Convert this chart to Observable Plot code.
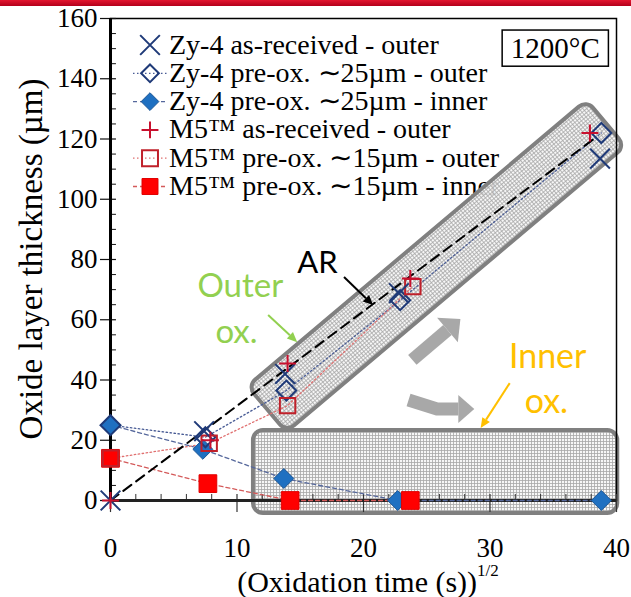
<!DOCTYPE html>
<html><head><meta charset="utf-8">
<script src="https://cdn.jsdelivr.net/npm/d3@7"></script>
<script src="https://cdn.jsdelivr.net/npm/@observablehq/plot@0.6"></script>
<style>
body{margin:0;background:#fff;}
#wrap{position:relative;width:631px;height:597px;overflow:hidden;background:#fff;}
#bar{position:absolute;left:0;top:0;width:631px;height:6px;background:linear-gradient(#e3162f,#b3001b);z-index:5;}
</style></head><body><div id="wrap"><div id="bar"></div></div>
<script>
// ---------------- data ----------------
const xTicks = [0, 10, 20, 30, 40];
const yTicks = [0, 20, 40, 60, 80, 100, 120, 140, 160];
const xMinor = [2,4,6,8,12,14,16,18,22,24,26,28,32,34,36,38];
const yMinor = [5,10,15,25,30,35,45,50,55,65,70,75,85,90,95,105,110,115,125,130,135,145,150,155];

const seriesNames = [
  "Zy-4 as-received - outer",
  "Zy-4 pre-ox. \u223C25\u00B5m - outer",
  "Zy-4 pre-ox. \u223C25\u00B5m - inner",
  "M5\u2122 as-received - outer",
  "M5\u2122 pre-ox. \u223C15\u00B5m - outer",
  "M5\u2122 pre-ox. \u223C15\u00B5m - inner"
];

const zyArT       = [0, 7.4, 13.8, 22.8, 38.7];
const zyArOuter   = [0, 23, 42, 68.8, 113.5];
const zyPreT      = [0, 7.5, 13.9, 22.9, 38.8];
const zyPreOuter  = [25, 21, 36.5, 66.5, 122];
const zyInnerT    = [0, 7.3, 13.7, 22.7, 38.8];
const zyPreInner  = [25, 17, 7.3, 0, 0];
const m5ArT       = [0, 7.9, 14.0, 23.7, 37.9];
const m5ArOuter   = [0, 20, 45.5, 73.7, 122];
const m5PreT      = [0, 7.8, 14.0, 23.9];
const m5PreOuter  = [14, 19, 31.5, 71];
const m5InnerT    = [0, 7.7, 14.2, 23.7];
const m5PreInner  = [14, 5.6, 0, 0];
const arFitT      = [0, 38.2];
const arFitY      = [0, 120];

const tempLabel = "1200\u00B0C";
const xLabel = "(Oxidation time (s))";
const xLabelSup = "1/2";
const yLabel = "Oxide layer thickness (\u00B5m)";

// ---------------- styles ----------------
const series = [
  {t: zyArT,    v: zyArOuter,  symbol: "times",    r: 9,   stroke: "#1f3a78", fill: "none",    sw: 2, line: null},
  {t: zyPreT,   v: zyPreOuter, symbol: "diamond2", r: 9,   stroke: "#1f3a78", fill: "none",    sw: 2, line: {stroke: "#4a5d96", dash: "1.5,2.5"}},
  {t: zyInnerT, v: zyPreInner, symbol: "diamond2", r: 9,   stroke: "#1c5696", fill: "#1f70c1", sw: 1, line: {stroke: "#56689c", dash: "4,3"}},
  {t: m5ArT,    v: m5ArOuter,  symbol: "plus",     r: 5.5, stroke: "#c8102e", fill: "none",    sw: 2, line: null},
  {t: m5PreT,   v: m5PreOuter, symbol: "square",   r: 8.7, stroke: "#c0202a", fill: "none",    sw: 2, line: {stroke: "#e07070", dash: "1.5,2.5"}},
  {t: m5InnerT, v: m5PreInner, symbol: "square",   r: 10,  stroke: "#e00000", fill: "#ff0000", sw: 1, line: {stroke: "#d45a5a", dash: "4,3"}}
];
series.forEach(s => s.rows = s.t.map((t, i) => ({t, v: s.v[i]})));
const arRows = arFitT.map((t, i) => ({t, v: arFitY[i]}));

const lineMarks = series.filter(s => s.line).map(s =>
  Plot.line(s.rows, {x: "t", y: "v", stroke: s.line.stroke, strokeWidth: 1.3, strokeDasharray: s.line.dash}));
const dotOrder = [2, 5, 1, 4, 0, 3];
const dotMarks = dotOrder.map(k => {
  const s = series[k];
  return Plot.dot(s.rows, {x: "t", y: "v", symbol: s.symbol, r: s.r, fill: s.fill, stroke: s.stroke, strokeWidth: s.sw});
});

const plot = Plot.plot({
  width: 631, height: 597,
  marginLeft: 110, marginRight: 15, marginTop: 18, marginBottom: 97,
  x: {domain: [0, 40], ticks: xTicks, tickSize: 0, tickPadding: 37, label: null},
  y: {domain: [0, 160], ticks: yTicks, tickSize: 0, tickPadding: 13, label: null},
  style: {fontFamily: "Liberation Serif", fontSize: "27px", background: "transparent", color: "black", overflow: "visible"},
  marks: [
    Plot.frame({stroke: "black", strokeWidth: 1.5}),
    Plot.ruleX(xMinor, {x: d => d, y1: 0, y2: 2, stroke: "#333", strokeWidth: 1}),
    Plot.ruleX(xTicks, {x: d => d, y1: -4, y2: 2, stroke: "#333", strokeWidth: 1.2}),
    Plot.ruleY(yMinor, {y: d => d, x1: 0, x2: 0.47, stroke: "#111", strokeWidth: 1}),
    Plot.ruleY(yTicks, {y: d => d, x1: -0.79, x2: 0.47, stroke: "#111", strokeWidth: 1.2}),
    Plot.ruleX([0], {y1: 0, y2: 160, stroke: "black", strokeWidth: 3}),
    Plot.ruleY([0], {x1: 0, x2: 40, stroke: "#222", strokeWidth: 3}),
    ...lineMarks,
    Plot.line(arRows, {x: "t", y: "v", stroke: "black", strokeWidth: 2, strokeDasharray: "10,6"}),
    ...dotMarks
  ]
});
document.getElementById("wrap").appendChild(plot);

// ---------------- overlays ----------------
const ns = "http://www.w3.org/2000/svg";
const sx = plot.scale("x"), sy = plot.scale("y");
const X = v => sx.apply(v), Y = v => sy.apply(v);

const under = document.createElementNS(ns, "g");
plot.insertBefore(under, plot.querySelector("g"));
const g = d3.select(under);

// legend
const leg = g.append("g");
series.forEach((s, i) => {
  const cy = 45 + i * 28.3;
  if (s.line) leg.append("line").attr("x1", 133).attr("x2", 168).attr("y1", cy).attr("y2", cy)
    .attr("stroke", s.line.stroke).attr("stroke-width", 1.3).attr("stroke-dasharray", s.line.dash);
  const lr = (s.symbol === "diamond2") ? 8 : (s.symbol === "square" ? 9 : s.r);
  const type = {times: d3.symbolTimes, diamond2: d3.symbolDiamond2, plus: d3.symbolPlus, square: d3.symbolSquare}[s.symbol];
  leg.append("path").attr("transform", `translate(150,${cy})`)
    .attr("d", d3.symbol().type(type).size(Math.PI * lr * lr)())
    .attr("fill", s.fill).attr("stroke", s.stroke).attr("stroke-width", s.sw);
  leg.append("text").attr("x", 169).attr("y", cy + 8.5).attr("text-anchor", "start")
    .attr("font-family", "Liberation Serif").attr("font-size", 28).attr("fill", "black").text(seriesNames[i]);
});

// mesh pattern + boxes
const defs = g.append("defs");
const pat = defs.append("pattern").attr("id", "mesh").attr("width", 3).attr("height", 3).attr("patternUnits", "userSpaceOnUse");
pat.append("rect").attr("width", 3).attr("height", 3).attr("fill", "rgba(246,246,246,0.88)");
pat.append("path").attr("d", "M0,0.5H3M0.5,0V3").attr("stroke", "#a8a8a8").attr("stroke-width", 0.8);

const innerBox = {x1: 11.3, x2: 40.1, y1: -4.3, y2: 23.2};
g.append("rect").attr("x", X(innerBox.x1)).attr("y", Y(innerBox.y2))
  .attr("width", X(innerBox.x2) - X(innerBox.x1)).attr("height", Y(innerBox.y1) - Y(innerBox.y2))
  .attr("rx", 10).attr("fill", "url(#mesh)").attr("stroke", "#808080").attr("stroke-width", 4);

const outerBox = {a: [12.4, 30.2], b: [39.2, 125.1], halfWidth: 30};
{
  const p0 = [X(outerBox.a[0]), Y(outerBox.a[1])], p1 = [X(outerBox.b[0]), Y(outerBox.b[1])];
  const L = Math.hypot(p1[0] - p0[0], p1[1] - p0[1]);
  const ang = Math.atan2(p1[1] - p0[1], p1[0] - p0[0]) * 180 / Math.PI;
  g.append("rect").attr("transform", `translate(${(p0[0] + p1[0]) / 2},${(p0[1] + p1[1]) / 2}) rotate(${ang})`)
    .attr("x", -L / 2).attr("y", -outerBox.halfWidth).attr("width", L).attr("height", 2 * outerBox.halfWidth)
    .attr("rx", 10).attr("fill", "url(#mesh)").attr("stroke", "#808080").attr("stroke-width", 4);
}

// top overlays
const over = d3.select(plot).append("g");

function arrow(pts, color, w, headL, headW) {
  const P = pts.map(p => [X(p[0]), Y(p[1])]);
  const n = P.length, a = P[n - 2], b = P[n - 1];
  const d = Math.hypot(b[0] - a[0], b[1] - a[1]);
  const ux = (b[0] - a[0]) / d, uy = (b[1] - a[1]) / d;
  const base = [b[0] - ux * headL, b[1] - uy * headL];
  const shaft = P.slice(0, n - 1).concat([base]);
  over.append("polyline").attr("points", shaft.map(p => p.join(",")).join(" "))
    .attr("fill", "none").attr("stroke", color).attr("stroke-width", w).attr("stroke-linejoin", "miter");
  over.append("polygon").attr("points", [b, [base[0] - uy * headW / 2, base[1] + ux * headW / 2], [base[0] + uy * headW / 2, base[1] - ux * headW / 2]].map(p => p.join(",")).join(" "))
    .attr("fill", color);
}

// gray block arrows
arrow([[23.9, 46.5], [27.7, 60.1]], "#a8a8a8", 13, 17, 32);
arrow([[23.6, 33.2], [25.85, 30.2], [28.8, 30.2]], "#a8a8a8", 13, 16, 28);

// text annotations
function label(txt, x, y, color, size, family) {
  over.append("text").attr("x", X(x)).attr("y", Y(y)).attr("text-anchor", "middle")
    .attr("font-family", family || "Lato").attr("font-size", size).attr("fill", color).text(txt);
}
label("AR", 16.4, 75.4, "black", 31);
arrow([[18.5, 74.0], [20.8, 64.7]], "black", 2, 10, 9);
label("Outer", 10.3, 67.4, "#92d050", 33);
label("ox.", 10.0, 52.1, "#92d050", 33);
arrow([[12.5, 61.4], [14.8, 52.4]], "#92d050", 2, 10, 9);
label("Inner", 34.6, 43.8, "#ffc000", 34);
label("ox.", 34.5, 28.9, "#ffc000", 34);
arrow([[31.6, 38.8], [29.3, 23.9]], "#ffc000", 2, 10, 9);

// temperature box
const tempBox = {x1: 31.0, x2: 39.4, y1: 144.0, y2: 156.0};
over.append("rect").attr("x", X(tempBox.x1)).attr("y", Y(tempBox.y2))
  .attr("width", X(tempBox.x2) - X(tempBox.x1)).attr("height", Y(tempBox.y1) - Y(tempBox.y2))
  .attr("fill", "white").attr("stroke", "black").attr("stroke-width", 1.5);
label(tempLabel, (tempBox.x1 + tempBox.x2) / 2, 146.6, "black", 29, "Liberation Serif");

// axis titles
const xt = over.append("text").attr("x", 368).attr("y", 592).attr("text-anchor", "middle")
  .attr("font-family", "Liberation Serif").attr("font-size", 30).attr("fill", "black");
xt.append("tspan").text(xLabel);
xt.append("tspan").attr("font-size", 17).attr("dy", -16).text(xLabelSup);
over.append("text").attr("transform", `translate(42,${(Y(0) + Y(160)) / 2}) rotate(-90)`).attr("text-anchor", "middle")
  .attr("font-family", "Liberation Serif").attr("font-size", 33).attr("fill", "black").text(yLabel);
</script></body></html>
